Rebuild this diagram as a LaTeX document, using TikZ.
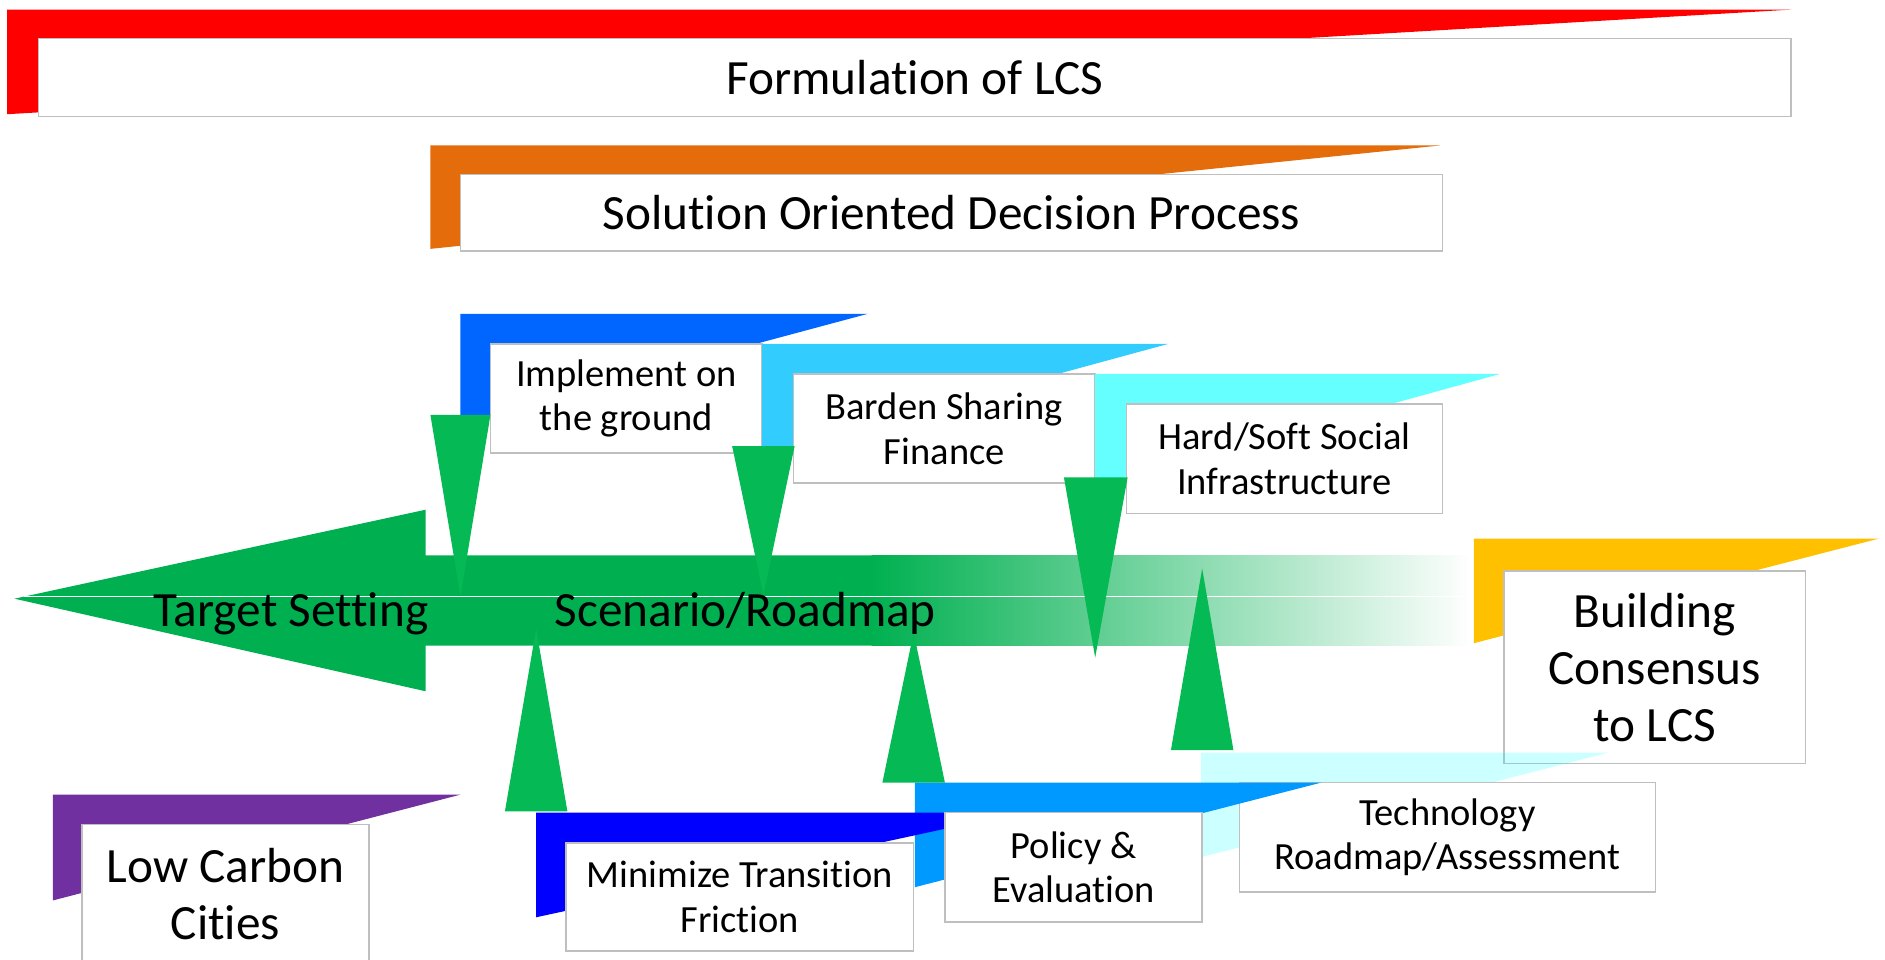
\documentclass[tikz,border=0pt]{standalone}
\usepackage{fontspec}
\setmainfont{Carlito}[Ligatures={NoCommon}]
\definecolor{cRed}{HTML}{FF0000}
\definecolor{cOrange}{HTML}{E46C0A}
\definecolor{cBlueA}{HTML}{0066FF}
\definecolor{cBlueB}{HTML}{33CCFF}
\definecolor{cBlueC}{HTML}{66FFFF}
\definecolor{cYellow}{HTML}{FFC000}
\definecolor{cPurple}{HTML}{7030A0}
\definecolor{cBlueD}{HTML}{0000FF}
\definecolor{cBlueE}{HTML}{0099FF}
\definecolor{cCyanT}{HTML}{00FFFF}
\definecolor{cArrow}{HTML}{00B050}
\definecolor{cTri}{HTML}{05BA55}
\definecolor{cBorder}{HTML}{BFBFBF}
\begin{document}
\begin{tikzpicture}[x=1pt,y=-1pt,
  box/.style={draw=cBorder, line width=1.3pt, fill=white, inner sep=0pt, outer sep=0pt, anchor=north west, align=center},
  big/.style={font=\fontsize{41}{47.5}\selectfont},
  small/.style={font=\fontsize{32}{37}\selectfont},
  tri/.style={fill=cTri},
]
\useasboundingbox (0,0) rectangle (1568,798);
\clip (0,0) rectangle (1568,798);

% ---- top banners
\fill[cRed] (6,8) -- (1490,8) -- (6,95) -- cycle;
\node[box,big,minimum width=1458pt,minimum height=65pt] (form) at (32,32) {Formulation of LCS};

\fill[cOrange] (358,121) -- (1198,121) -- (358,207) -- cycle;
\node[box,big,minimum width=817pt,minimum height=64pt] (sodp) at (383,145) {Solution Oriented Decision Process};

\fill[cBlueA] (383,261) -- (722,261) -- (383,352) -- cycle;
\node[box,small,minimum width=226pt,minimum height=91pt] (impl) at (408,286) {Implement on\\the ground};
\fill[cBlueB] (634,286) -- (972,286) -- (634,378) -- cycle;
\node[box,small,minimum width=251pt,minimum height=91pt] (bard) at (660,311) {Barden Sharing\\Finance};
\fill[cBlueC] (911,311) -- (1248,311) -- (911,404) -- cycle;
\node[box,small,minimum width=263pt,minimum height=91pt] (hard) at (937,336) {Hard/Soft Social\\Infrastructure};

% ---- big arrow
\fill[cArrow] (12,498) -- (354,424) -- (354,462) -- (726,462) -- (726,537) -- (354,537) -- (354,575) -- cycle;
\shade[left color=cArrow, right color=white] (725,462) rectangle (1224,537);
\draw[white, line width=0.8pt] (20,496.5) -- (1224,496.5);

% ---- right banner
\fill[cYellow] (1226,448) -- (1563,448) -- (1226,535) -- cycle;
\node[box,big,minimum width=251pt,minimum height=160pt] (bcl) at (1251,475) {Building\\Consensus\\to LCS};

% ---- bottom banners
\fill[cPurple] (44,661) -- (383,661) -- (44,749) -- cycle;
\node[box,big,minimum width=239pt,minimum height=116pt] (lcc) at (68,686) {Low Carbon\\Cities};

\fill[cCyanT, opacity=0.2] (999,626) -- (1338,626) -- (999,713) -- cycle;
\node[box,small,minimum width=346pt,minimum height=91pt] (tech) at (1031,651) {Technology\\Roadmap/Assessment};
\fill[cBlueE] (761,651) -- (1099,651) -- (761,738) -- cycle;
\fill[cBlueD] (446,676) -- (848,676) -- (446,763) -- cycle;
\node[box,small,minimum width=289pt,minimum height=90pt] (mtf) at (471,701) {Minimize Transition\\Friction};
\node[box,small,minimum width=214pt,minimum height=91pt] (pol) at (786,676) {Policy \&\\Evaluation};

% ---- green wedges
\fill[tri] (358,345) -- (408,345) -- (383,496) -- cycle;
\fill[tri] (609,371) -- (661,371) -- (635,495) -- cycle;
\fill[tri] (885,397) -- (938,397) -- (911,547) -- cycle;
\fill[tri] (420,675) -- (472,675) -- (446,523) -- cycle;
\fill[tri] (734,651) -- (786,651) -- (760,526) -- cycle;
\fill[tri] (974,624) -- (1026,624) -- (1000,473) -- cycle;

% ---- arrow labels
\node[big, anchor=base, inner sep=0pt] (tgt) at (242,521) {Target Setting};
\node[big, anchor=base, inner sep=0pt] (scn) at (620,521) {Scenario/Roadmap};
\end{tikzpicture}
\end{document}
